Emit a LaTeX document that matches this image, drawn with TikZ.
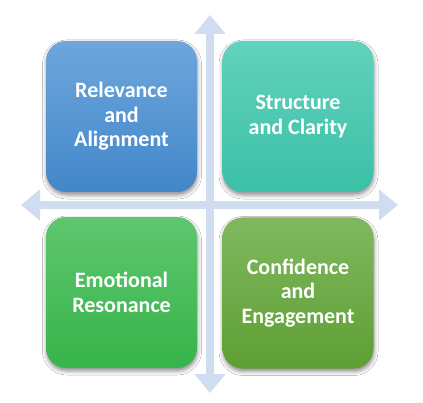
\documentclass[tikz,border=0pt]{standalone}
\usepackage{fontspec}
\setmainfont{Carlito}
\usetikzlibrary{arrows.meta,shadows.blur}
\definecolor{axisc}{HTML}{D0DCEF}
\definecolor{blueT}{HTML}{6EA6DC}\definecolor{blueB}{HTML}{4287CA}
\definecolor{tealT}{HTML}{62D2BC}\definecolor{tealB}{HTML}{3BC0A6}
\definecolor{grnT}{HTML}{5FC66F}\definecolor{grnB}{HTML}{36B44A}
\definecolor{oliveT}{HTML}{80B860}\definecolor{oliveB}{HTML}{5E9F33}
\tikzset{
  axis/.style={draw=axisc, line width=8.5pt,
    {Triangle[width=30pt,length=19pt]}-{Triangle[width=30pt,length=19pt]}},
  quad/.style={rounded corners=20pt, minimum width=151pt, minimum height=151pt,
    inner sep=0pt, align=center, text=white, font=\bfseries\fontsize{22}{24.5}\selectfont,
    blur shadow={shadow xshift=0.5pt, shadow yshift=-3pt, shadow blur radius=4pt, shadow opacity=45}},
}
\begin{document}
\begin{tikzpicture}[x=1pt,y=-1pt]
\useasboundingbox[fill=white] (0,0) rectangle (423,403);
\coordinate (vt) at (210,15);
\coordinate (vb) at (210,393);
\coordinate (hl) at (21,205);
\coordinate (hr) at (398,205);
\draw[axis] (vt) -- (vb);
\draw[axis] (hl) -- (hr);
\node[quad, top color=blueT, bottom color=blueB] (q1) at (121.5,116.5) {Relevance\\and\\Alignment};
\node[quad, top color=tealT, bottom color=tealB] (q2) at (298,116.5) {Structure\\and Clarity};
\node[quad, top color=grnT, bottom color=grnB] (q3) at (121.5,292.5) {Emotional\\Resonance};
\node[quad, top color=oliveT, bottom color=oliveB] (q4) at (298,293) {Confidence\\and\\Engagement};
\end{tikzpicture}
\end{document}
